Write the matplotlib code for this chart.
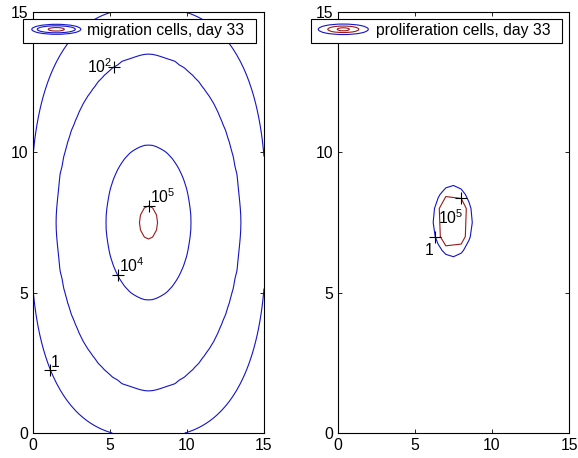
import numpy as np
import matplotlib
matplotlib.use("Agg")
import matplotlib.pyplot as plt
from matplotlib.patches import Rectangle, Ellipse

plt.rcParams['font.family'] = ['Liberation Sans', 'DejaVu Sans']
plt.rcParams['mathtext.fontset'] = 'custom'
plt.rcParams['mathtext.rm'] = 'Liberation Sans'

# ---------------- data ----------------
titles = ['migration cells, day 33', 'proliferation cells, day 33']
ticks = [0, 5, 10, 15]
tick_labels = ['0', '5', '10', '15']

# migration cells: log10 density levels and radius where each level lies
mig_levels = [0, 2, 4, 5]
mig_level_radius = [7.64, 6.0, 2.76, 0.58]
mig_peak_log = 5.3
mig_far_radius, mig_far_log = 11.0, -4.0
mig_center = (7.5, 7.5)
mig_label_xy = [(1.2, 2.2), (5.3, 13.1), (5.6, 5.6), (7.6, 8.1)]

# proliferation cells: log10 levels, their radii and the mesh step they were sampled on
pro_levels = [0, 5]
pro_level_radius = [1.27, 1.01]
pro_grid_step = [0.5, 1.0]
pro_center = (7.45, 7.55)
pro_label_xy = [(6.3, 6.9), (8.1, 8.3)]

BLUE = '#1414c8'
RED = '#9a1a1a'
mig_colors = [BLUE, BLUE, BLUE, RED]
pro_colors = [BLUE, RED]

FS = 11.3
W, H = 578, 458
fig = plt.figure(figsize=(W / 100, H / 100), dpi=100)
ax1 = fig.add_axes([33 / W, 25 / H, 231 / W, 421 / H])
ax2 = fig.add_axes([338 / W, 25 / H, 231 / W, 421 / H])

PX = 0.72  # points per pixel


def lvl_text(l):
    return '1' if l == 0 else r'$\mathregular{10^{%d}}$' % l


# ---- migration field
xg = np.linspace(0, 15, 61)
X, Y = np.meshgrid(xg, xg)
dx, dy = X - mig_center[0], Y - mig_center[1]
d2 = np.hypot(dx, dy)
dp = (np.abs(dx) ** 2.6 + np.abs(dy) ** 2.6) ** (1 / 2.6)
w = np.clip((d2 - 6.2) / 1.3, 0, 1)
d = (1 - w) * d2 + w * dp
order = np.argsort(mig_level_radius)
r_pts = [0.0] + list(np.array(mig_level_radius)[order]) + [mig_far_radius]
l_pts = [mig_peak_log] + list(np.array(mig_levels)[order]) + [mig_far_log]
mig_log = np.interp(d, r_pts, l_pts)

slope = (pro_levels[1] - pro_levels[0]) / (pro_level_radius[0] - pro_level_radius[1])


def pro_field(step):
    g = np.arange(0, 15 + 1e-9, step)
    GX, GY = np.meshgrid(g, g)
    dd = np.hypot(GX - pro_center[0], GY - pro_center[1])
    return GX, GY, pro_levels[0] + slope * (pro_level_radius[0] - dd)


label_style = {
    0: [((0, 3), 'left'), ((-2, -6), 'right'), ((1, 3), 'left'), ((1.5, 3), 'left')],
    1: [((-2, -18), 'right'), ((2, -26), 'right')],
}


def place_label(ax, segs, tgt, lvl, style):
    verts = np.vstack([s for s in segs if len(s)])
    j = np.argmin(((verts - np.array(tgt)) ** 2).sum(axis=1))
    px, py = verts[j]
    ax.plot([px], [py], marker='+', color='black', ms=8, mew=0.8, zorder=5)
    (ox, oy), ha = style
    ax.annotate(lvl_text(lvl), (px, py), xytext=(ox * PX, oy * PX),
                textcoords='offset points', ha=ha, va='baseline',
                fontsize=FS, zorder=6)


# left panel
cs = ax1.contour(X, Y, mig_log, levels=mig_levels, colors=mig_colors, linewidths=0.8)
for i, lvl in enumerate(mig_levels):
    place_label(ax1, cs.allsegs[i], mig_label_xy[i], lvl, label_style[0][i])

# right panel
for i, lvl in enumerate(pro_levels):
    GX, GY, F = pro_field(pro_grid_step[i])
    cs2 = ax2.contour(GX, GY, F, levels=[lvl], colors=[pro_colors[i]], linewidths=0.8)
    place_label(ax2, cs2.allsegs[0], pro_label_xy[i], lvl, label_style[1][i])

for ax in (ax1, ax2):
    ax.set_xlim(0, 15)
    ax.set_ylim(0, 15)
    ax.set_xticks(ticks)
    ax.set_xticklabels(tick_labels)
    ax.set_yticks(ticks)
    ax.set_yticklabels(tick_labels)
    ax.tick_params(direction='in', top=True, right=True, length=3.2, width=0.6,
                   labelsize=FS, pad=3.3, colors='black')
    for sp in ax.spines.values():
        sp.set_linewidth(0.8)


# ---- legends (drawn in figure pixel positions)
def fx(x):
    return x / W


def fy(y):
    return (H - y) / H


legend_specs = [
    (23, 256, 56.3, [(49, 10, BLUE), (38, 7, BLUE), (16, 3.5, RED)], 87),
    (311, 562, 343.3, [(50, 10.5, BLUE), (31, 6.5, RED), (12, 3, RED)], 376),
]
for (x0, x1, cx, ells, tx), title in zip(legend_specs, titles):
    fig.patches.append(Rectangle((fx(x0), fy(43)), fx(x1) - fx(x0), (43 - 19) / H,
                                 transform=fig.transFigure, facecolor='white',
                                 edgecolor='black', linewidth=0.8, zorder=10))
    for ew, eh, ec in ells:
        fig.patches.append(Ellipse((fx(cx), fy(29.3)), ew / W, eh / H,
                                   transform=fig.transFigure, facecolor='none',
                                   edgecolor=ec, linewidth=0.8, zorder=11))
    fig.text(fx(tx), fy(35.5), title, fontsize=FS, ha='left', va='baseline',
             zorder=12)

fig.savefig('out.png', dpi=100)
